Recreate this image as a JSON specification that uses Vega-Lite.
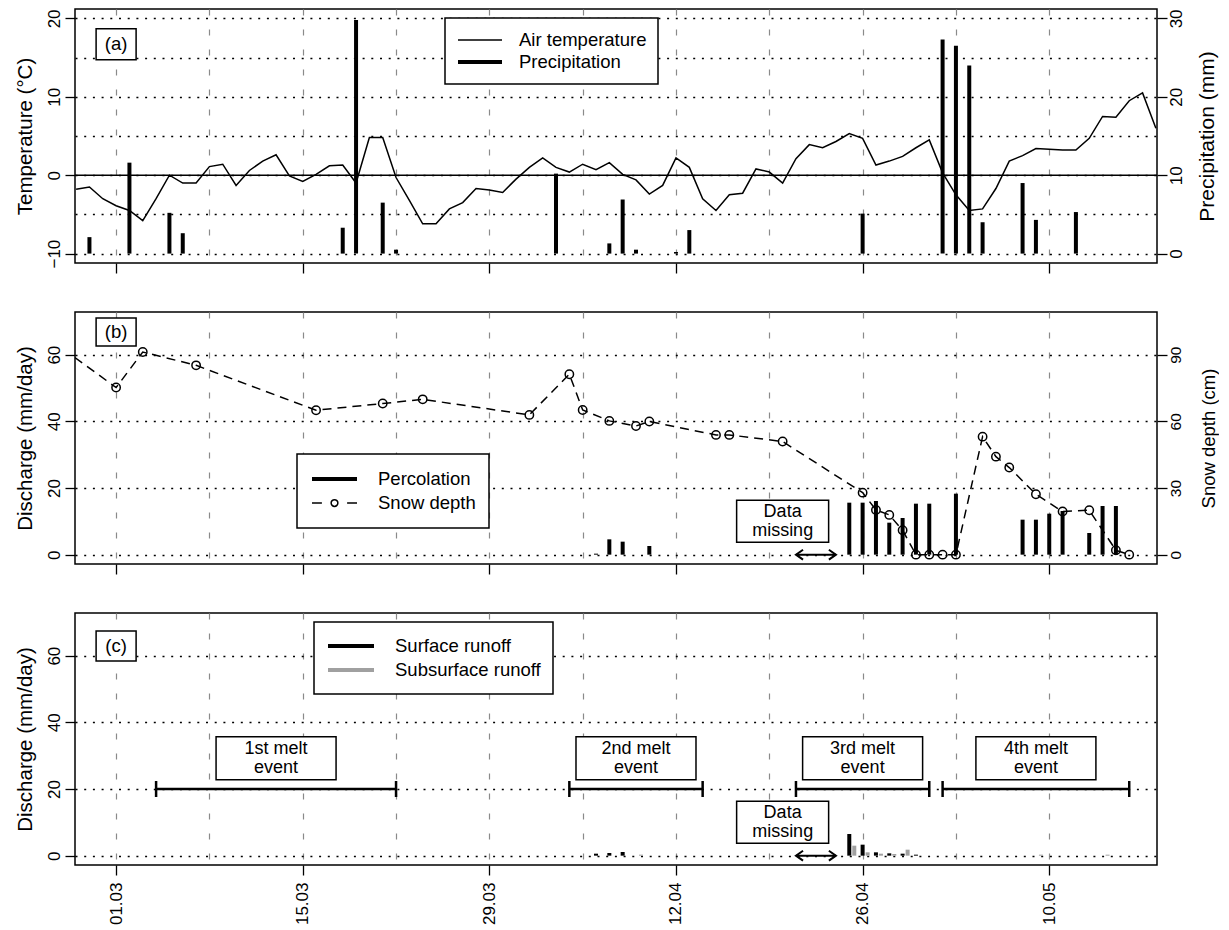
{
  "$schema": "https://vega.github.io/schema/vega-lite/v6.json",
  "padding": {"left": 14, "top": 8, "right": 0, "bottom": 0},
  "background": "white",
  "spacing": 49,
  "bounds": "flush",
  "config": {
    "view": {"stroke": "black", "strokeWidth": 1.5},
    "axis": {"labelFont": "Liberation Sans", "titleFont": "Liberation Sans", "labelColor": "black", "titleColor": "black", "titleFontWeight": "normal", "tickColor": "black", "tickWidth": 1.3, "domain": false, "labelFlush": false, "labelOverlap": false, "tickSize": 10},
    "legend": {"labelFont": "Liberation Sans", "labelColor": "black"}
  },
  "datasets": {
    "temperature": [
      {"date": "2006-02-26", "temp": -1.8}, {"date": "2006-02-27", "temp": -1.5}, {"date": "2006-02-28", "temp": -3.0},
      {"date": "2006-03-01", "temp": -3.9}, {"date": "2006-03-02", "temp": -4.5}, {"date": "2006-03-03", "temp": -5.8},
      {"date": "2006-03-04", "temp": -3.0}, {"date": "2006-03-05", "temp": 0.0}, {"date": "2006-03-06", "temp": -1.0},
      {"date": "2006-03-07", "temp": -1.0}, {"date": "2006-03-08", "temp": 1.1}, {"date": "2006-03-09", "temp": 1.4},
      {"date": "2006-03-10", "temp": -1.3}, {"date": "2006-03-11", "temp": 0.6}, {"date": "2006-03-12", "temp": 1.8},
      {"date": "2006-03-13", "temp": 2.6}, {"date": "2006-03-14", "temp": -0.1}, {"date": "2006-03-15", "temp": -0.8},
      {"date": "2006-03-16", "temp": 0.1}, {"date": "2006-03-17", "temp": 1.2}, {"date": "2006-03-18", "temp": 1.3},
      {"date": "2006-03-19", "temp": -1.0}, {"date": "2006-03-20", "temp": 4.8}, {"date": "2006-03-21", "temp": 4.8},
      {"date": "2006-03-22", "temp": -0.3}, {"date": "2006-03-23", "temp": -3.2}, {"date": "2006-03-24", "temp": -6.2},
      {"date": "2006-03-25", "temp": -6.2}, {"date": "2006-03-26", "temp": -4.3}, {"date": "2006-03-27", "temp": -3.5},
      {"date": "2006-03-28", "temp": -1.7}, {"date": "2006-03-29", "temp": -1.9}, {"date": "2006-03-30", "temp": -2.2},
      {"date": "2006-03-31", "temp": -0.5}, {"date": "2006-04-01", "temp": 1.0}, {"date": "2006-04-02", "temp": 2.2},
      {"date": "2006-04-03", "temp": 1.0}, {"date": "2006-04-04", "temp": 0.4}, {"date": "2006-04-05", "temp": 1.4},
      {"date": "2006-04-06", "temp": 0.7}, {"date": "2006-04-07", "temp": 1.6}, {"date": "2006-04-08", "temp": 0.1},
      {"date": "2006-04-09", "temp": -0.6}, {"date": "2006-04-10", "temp": -2.4}, {"date": "2006-04-11", "temp": -1.3},
      {"date": "2006-04-12", "temp": 2.2}, {"date": "2006-04-13", "temp": 1.0}, {"date": "2006-04-14", "temp": -3.0},
      {"date": "2006-04-15", "temp": -4.5}, {"date": "2006-04-16", "temp": -2.5}, {"date": "2006-04-17", "temp": -2.3},
      {"date": "2006-04-18", "temp": 0.8}, {"date": "2006-04-19", "temp": 0.4}, {"date": "2006-04-20", "temp": -1.0},
      {"date": "2006-04-21", "temp": 2.1}, {"date": "2006-04-22", "temp": 3.9}, {"date": "2006-04-23", "temp": 3.5},
      {"date": "2006-04-24", "temp": 4.3}, {"date": "2006-04-25", "temp": 5.3}, {"date": "2006-04-26", "temp": 4.7},
      {"date": "2006-04-27", "temp": 1.3}, {"date": "2006-04-28", "temp": 1.8}, {"date": "2006-04-29", "temp": 2.4},
      {"date": "2006-04-30", "temp": 3.5}, {"date": "2006-05-01", "temp": 4.5}, {"date": "2006-05-02", "temp": 0.3},
      {"date": "2006-05-03", "temp": -2.5}, {"date": "2006-05-04", "temp": -4.5}, {"date": "2006-05-05", "temp": -4.3},
      {"date": "2006-05-06", "temp": -1.7}, {"date": "2006-05-07", "temp": 1.8}, {"date": "2006-05-08", "temp": 2.5},
      {"date": "2006-05-09", "temp": 3.4}, {"date": "2006-05-10", "temp": 3.3}, {"date": "2006-05-11", "temp": 3.2},
      {"date": "2006-05-12", "temp": 3.2}, {"date": "2006-05-13", "temp": 4.7}, {"date": "2006-05-14", "temp": 7.5},
      {"date": "2006-05-15", "temp": 7.4}, {"date": "2006-05-16", "temp": 9.5}, {"date": "2006-05-17", "temp": 10.5},
      {"date": "2006-05-18", "temp": 6.0}
    ],
    "precipitation": [
      {"date": "2006-02-27", "precip": 2.1}, {"date": "2006-03-02", "precip": 11.6}, {"date": "2006-03-05", "precip": 5.2},
      {"date": "2006-03-06", "precip": 2.6}, {"date": "2006-03-18", "precip": 3.3}, {"date": "2006-03-19", "precip": 29.8},
      {"date": "2006-03-21", "precip": 6.5}, {"date": "2006-03-22", "precip": 0.5}, {"date": "2006-04-03", "precip": 10.2},
      {"date": "2006-04-07", "precip": 1.3}, {"date": "2006-04-08", "precip": 6.9}, {"date": "2006-04-09", "precip": 0.5},
      {"date": "2006-04-12", "precip": 0.2}, {"date": "2006-04-13", "precip": 3.0}, {"date": "2006-04-26", "precip": 5.1},
      {"date": "2006-05-02", "precip": 27.3}, {"date": "2006-05-03", "precip": 26.5}, {"date": "2006-05-04", "precip": 24.0},
      {"date": "2006-05-05", "precip": 4.0}, {"date": "2006-05-08", "precip": 9.0}, {"date": "2006-05-09", "precip": 4.3},
      {"date": "2006-05-12", "precip": 5.3}
    ],
    "snow": [
      {"date": "2006-02-25", "snow": 92.7}, {"date": "2006-03-01", "snow": 75.2}, {"date": "2006-03-03", "snow": 91.2},
      {"date": "2006-03-07", "snow": 85.2}, {"date": "2006-03-16", "snow": 65.0}, {"date": "2006-03-21", "snow": 68.0},
      {"date": "2006-03-24", "snow": 69.9}, {"date": "2006-04-01", "snow": 62.9}, {"date": "2006-04-04", "snow": 81.2},
      {"date": "2006-04-05", "snow": 65.1}, {"date": "2006-04-07", "snow": 60.2}, {"date": "2006-04-09", "snow": 57.9},
      {"date": "2006-04-10", "snow": 59.9}, {"date": "2006-04-15", "snow": 53.9}, {"date": "2006-04-16", "snow": 53.9},
      {"date": "2006-04-20", "snow": 50.9}, {"date": "2006-04-26", "snow": 27.9}, {"date": "2006-04-27", "snow": 20.1},
      {"date": "2006-04-28", "snow": 17.9}, {"date": "2006-04-29", "snow": 11.0}, {"date": "2006-04-30", "snow": 0},
      {"date": "2006-05-01", "snow": 0}, {"date": "2006-05-02", "snow": 0}, {"date": "2006-05-03", "snow": 0},
      {"date": "2006-05-05", "snow": 53.1}, {"date": "2006-05-06", "snow": 44.1}, {"date": "2006-05-07", "snow": 39.2},
      {"date": "2006-05-09", "snow": 27.2}, {"date": "2006-05-11", "snow": 19.4}, {"date": "2006-05-13", "snow": 20.0},
      {"date": "2006-05-15", "snow": 2.0}, {"date": "2006-05-16", "snow": 0}
    ],
    "percolation": [
      {"date": "2006-04-06", "perc": 0.3}, {"date": "2006-04-07", "perc": 4.6}, {"date": "2006-04-08", "perc": 3.9},
      {"date": "2006-04-10", "perc": 2.6}, {"date": "2006-04-25", "perc": 15.6}, {"date": "2006-04-26", "perc": 15.6},
      {"date": "2006-04-27", "perc": 16.1}, {"date": "2006-04-28", "perc": 9.6}, {"date": "2006-04-29", "perc": 11.0},
      {"date": "2006-04-30", "perc": 15.3}, {"date": "2006-05-01", "perc": 15.3}, {"date": "2006-05-03", "perc": 18.3},
      {"date": "2006-05-08", "perc": 10.5}, {"date": "2006-05-09", "perc": 10.5}, {"date": "2006-05-10", "perc": 12.3},
      {"date": "2006-05-11", "perc": 13.1}, {"date": "2006-05-13", "perc": 6.5}, {"date": "2006-05-14", "perc": 14.6},
      {"date": "2006-05-15", "perc": 14.6}
    ],
    "surface": [
      {"date": "2006-04-06", "runoff": 0.6}, {"date": "2006-04-07", "runoff": 0.8}, {"date": "2006-04-08", "runoff": 1.1},
      {"date": "2006-04-25", "runoff": 6.5}, {"date": "2006-04-26", "runoff": 3.3}, {"date": "2006-04-27", "runoff": 1.0},
      {"date": "2006-04-28", "runoff": 0.7}, {"date": "2006-04-29", "runoff": 0.6}, {"date": "2006-04-30", "runoff": 0.3}
    ],
    "subsurface": [
      {"date": "2006-04-09", "runoff": 0.3}, {"date": "2006-04-25", "runoff": 3.0}, {"date": "2006-04-26", "runoff": 1.0},
      {"date": "2006-04-27", "runoff": 0.6}, {"date": "2006-04-28", "runoff": 0.5}, {"date": "2006-04-29", "runoff": 1.8},
      {"date": "2006-05-09", "runoff": 0.3}, {"date": "2006-05-14", "runoff": 0.3}
    ],
    "melt": [
      {"event": "1st melt\nevent", "start": "2006-03-04", "end": "2006-03-22", "labeldate": "2006-03-13"},
      {"event": "2nd melt\nevent", "start": "2006-04-04", "end": "2006-04-14", "labeldate": "2006-04-09"},
      {"event": "3rd melt\nevent", "start": "2006-04-21", "end": "2006-05-01", "labeldate": "2006-04-26"},
      {"event": "4th melt\nevent", "start": "2006-05-02", "end": "2006-05-16", "labeldate": "2006-05-09"}
    ],
    "missing": [
      {"label": "Data\nmissing", "start": "2006-04-21", "end": "2006-04-24", "labeldate": "2006-04-20"}
    ]
  },
  "resolve": {
    "scale": {"strokeWidth": "independent", "color": "independent"},
    "legend": {"strokeWidth": "independent", "color": "independent"}
  },
  "vconcat": [
    {
      "width": 1082,
      "height": 254,
      "resolve": {"scale": {"y": "independent"}},
      "layer": [
        {
          "layer": [
            {
              "data": {"name": "temperature"},
              "mark": {"type": "line", "color": "black", "clip": true},
              "encoding": {
                "x": {"field": "date", "type": "temporal", "title": null,
                  "scale": {"type": "utc", "domain": [{"year": 2006, "month": 2, "date": 25, "hours": 22, "utc": true}, {"year": 2006, "month": 5, "date": 18, "hours": 2, "utc": true}]},
                  "axis": {
                    "values": [{"year": 2006, "month": 3, "date": 1, "utc": true}, {"year": 2006, "month": 3, "date": 8, "utc": true}, {"year": 2006, "month": 3, "date": 15, "utc": true}, {"year": 2006, "month": 3, "date": 22, "utc": true}, {"year": 2006, "month": 3, "date": 29, "utc": true}, {"year": 2006, "month": 4, "date": 5, "utc": true}, {"year": 2006, "month": 4, "date": 12, "utc": true}, {"year": 2006, "month": 4, "date": 19, "utc": true}, {"year": 2006, "month": 4, "date": 26, "utc": true}, {"year": 2006, "month": 5, "date": 3, "utc": true}, {"year": 2006, "month": 5, "date": 10, "utc": true}],
                    "grid": true, "gridDash": [6, 14], "gridColor": "#8a8a8a", "gridWidth": 1.2,
                    "labels": false,
                    "tickOpacity": {"condition": {"test": "round((datum.value - utc(2006,2,1))/864e5) % 14 === 0", "value": 1}, "value": 0}
                  }
                },
                "y": {"field": "temp", "type": "quantitative",
                  "scale": {"domain": [-11.2, 21.2], "nice": false, "zero": false},
                  "axis": {
                    "values": [-10, -5, 0, 5, 10, 15, 20],
                    "grid": true, "gridDash": [2, 6.7], "gridColor": "black", "gridWidth": 1.3,
                    "labelExpr": "datum.value % 10 === 0 ? datum.label : ''",
                    "tickOpacity": {"condition": {"test": "datum.value % 10 === 0", "value": 1}, "value": 0},
                    "labelAngle": 270, "labelAlign": "center", "labelBaseline": "bottom", "labelFontSize": 17, "labelPadding": 2,
                    "title": "Temperature (°C)", "titleFontSize": 20.5, "titlePadding": 10
                  }
                },
                "strokeWidth": {"datum": "Air temperature", "type": "ordinal",
                  "scale": {"domain": ["Air temperature", "Precipitation"], "range": [1.5, 4]},
                  "legend": {
                    "orient": "none", "legendX": 370, "legendY": 9, "title": null,
                    "symbolType": "stroke", "symbolSize": 1936, "symbolStrokeColor": "black",
                    "labelFontSize": 18.5, "labelLimit": 400, "labelOffset": 15,
                    "padding": 11, "rowPadding": 0, "clipHeight": 22,
                    "strokeColor": "black", "fillColor": "white",
                    "encode": {"legend": {"update": {"strokeWidth": {"value": 1.5}}}}
                  }
                }
              }
            },
            {
              "data": {"values": [{}]},
              "mark": {"type": "rule", "color": "black", "strokeWidth": 1.5},
              "encoding": {"y": {"datum": 0, "type": "quantitative"}}
            },
            {
              "data": {"values": [{"label": "(a)"}]},
              "mark": {"type": "rect", "fill": "white", "stroke": "black", "strokeWidth": 1.5, "width": 40, "height": 31, "align": "center", "baseline": "middle"},
              "encoding": {
                "x": {"datum": {"year": 2006, "month": 3, "date": 1, "utc": true}, "type": "temporal", "scale": {"type": "utc"}},
                "y": {"datum": 16.7, "type": "quantitative"}
              }
            },
            {
              "data": {"values": [{"label": "(a)"}]},
              "mark": {"type": "text", "font": "Liberation Sans", "fontSize": 18.5, "color": "black", "align": "center", "baseline": "middle"},
              "encoding": {
                "x": {"datum": {"year": 2006, "month": 3, "date": 1, "utc": true}, "type": "temporal", "scale": {"type": "utc"}},
                "y": {"datum": 16.7, "type": "quantitative"},
                "text": {"field": "label"}
              }
            }
          ]
        },
        {
          "data": {"name": "precipitation"},
          "mark": {"type": "rule", "color": "black"},
          "encoding": {
            "x": {"field": "date", "type": "temporal", "title": null, "scale": {"type": "utc"}},
            "y": {"field": "precip", "type": "quantitative",
              "scale": {"domain": [-1.2, 31.2], "nice": false, "zero": false},
              "axis": {
                "orient": "right", "values": [0, 10, 20, 30], "grid": false,
                "labelAngle": 270, "labelAlign": "center", "labelBaseline": "top", "labelFontSize": 17, "labelPadding": 1,
                "title": "Precipitation (mm)", "titleFontSize": 21, "titleAngle": 270, "titleBaseline": "top", "titlePadding": 12
              }
            },
            "y2": {"datum": 0},
            "strokeWidth": {"datum": "Precipitation", "type": "ordinal"}
          }
        }
      ]
    },
    {
      "width": 1082,
      "height": 252,
      "resolve": {"scale": {"y": "independent"}},
      "layer": [
        {
          "layer": [
            {
              "data": {"name": "percolation"},
              "mark": {"type": "rule", "color": "black"},
              "encoding": {
                "x": {"field": "date", "type": "temporal", "title": null,
                  "scale": {"type": "utc", "domain": [{"year": 2006, "month": 2, "date": 25, "hours": 22, "utc": true}, {"year": 2006, "month": 5, "date": 18, "hours": 2, "utc": true}]},
                  "axis": {
                    "values": [{"year": 2006, "month": 3, "date": 1, "utc": true}, {"year": 2006, "month": 3, "date": 8, "utc": true}, {"year": 2006, "month": 3, "date": 15, "utc": true}, {"year": 2006, "month": 3, "date": 22, "utc": true}, {"year": 2006, "month": 3, "date": 29, "utc": true}, {"year": 2006, "month": 4, "date": 5, "utc": true}, {"year": 2006, "month": 4, "date": 12, "utc": true}, {"year": 2006, "month": 4, "date": 19, "utc": true}, {"year": 2006, "month": 4, "date": 26, "utc": true}, {"year": 2006, "month": 5, "date": 3, "utc": true}, {"year": 2006, "month": 5, "date": 10, "utc": true}],
                    "grid": true, "gridDash": [6, 14], "gridColor": "#8a8a8a", "gridWidth": 1.2,
                    "labels": false,
                    "tickOpacity": {"condition": {"test": "round((datum.value - utc(2006,2,1))/864e5) % 14 === 0", "value": 1}, "value": 0}
                  }
                },
                "y": {"field": "perc", "type": "quantitative",
                  "scale": {"domain": [-2.8, 72.8], "nice": false, "zero": false},
                  "axis": {
                    "values": [0, 10, 20, 30, 40, 50, 60, 70],
                    "grid": true, "gridDash": [2, 6.7], "gridColor": "black", "gridWidth": 1.3,
                    "labelExpr": "datum.value % 20 === 0 ? datum.label : ''",
                    "tickOpacity": {"condition": {"test": "datum.value % 20 === 0", "value": 1}, "value": 0},
                    "labelAngle": 270, "labelAlign": "center", "labelBaseline": "bottom", "labelFontSize": 17, "labelPadding": 2,
                    "title": "Discharge (mm/day)", "titleFontSize": 20.5, "titlePadding": 10
                  }
                },
                "y2": {"datum": 0},
                "strokeWidth": {"datum": "Percolation", "type": "ordinal",
                  "scale": {"domain": ["Percolation", "Snow depth"], "range": [4, 1.5]},
                  "legend": {
                    "orient": "none", "legendX": 222, "legendY": 142, "title": null,
                    "symbolType": "stroke", "symbolSize": 2025, "symbolStrokeColor": "black",
                    "labelFontSize": 18.5, "labelLimit": 400, "labelOffset": 19,
                    "padding": 13, "rowPadding": 0, "clipHeight": 24,
                    "strokeColor": "black", "fillColor": "white",
                    "encode": {
                      "legend": {"update": {"strokeWidth": {"value": 1.5}}},
                      "symbols": {"update": {"shape": {"signal": "datum.value === 'Snow depth' ? 'M-1,0H-0.56M0.56,0H1M-0.15,0A0.15,0.15 0 1 1 0.15,0A0.15,0.15 0 1 1 -0.15,0' : 'stroke'"}}}
                    }
                  }
                }
              }
            },
            {
              "data": {"values": [{"label": "(b)"}]},
              "mark": {"type": "rect", "fill": "white", "stroke": "black", "strokeWidth": 1.5, "width": 40, "height": 28, "align": "center", "baseline": "middle"},
              "encoding": {
                "x": {"datum": {"year": 2006, "month": 3, "date": 1, "utc": true}, "type": "temporal", "scale": {"type": "utc"}},
                "y": {"datum": 66.8, "type": "quantitative"}
              }
            },
            {
              "data": {"values": [{"label": "(b)"}]},
              "mark": {"type": "text", "font": "Liberation Sans", "fontSize": 18.5, "color": "black", "align": "center", "baseline": "middle"},
              "encoding": {
                "x": {"datum": {"year": 2006, "month": 3, "date": 1, "utc": true}, "type": "temporal", "scale": {"type": "utc"}},
                "y": {"datum": 66.8, "type": "quantitative"},
                "text": {"field": "label"}
              }
            },
            {
              "data": {"name": "missing"},
              "mark": {"type": "rect", "fill": "white", "stroke": "black", "strokeWidth": 1.5, "width": 92, "height": 42, "align": "center", "baseline": "middle"},
              "encoding": {
                "x": {"field": "labeldate", "type": "temporal", "scale": {"type": "utc"}},
                "y": {"datum": 10, "type": "quantitative"}
              }
            },
            {
              "data": {"name": "missing"},
              "mark": {"type": "text", "font": "Liberation Sans", "fontSize": 18, "color": "black", "align": "center", "baseline": "middle", "lineBreak": "\n", "lineHeight": 19, "dy": -9.5},
              "encoding": {
                "x": {"field": "labeldate", "type": "temporal", "scale": {"type": "utc"}},
                "y": {"datum": 10, "type": "quantitative"},
                "text": {"field": "label"}
              }
            },
            {
              "data": {"name": "missing"},
              "mark": {"type": "rule", "color": "black", "strokeWidth": 2},
              "encoding": {
                "x": {"field": "start", "type": "temporal", "scale": {"type": "utc"}},
                "x2": {"field": "end"},
                "y": {"datum": 0, "type": "quantitative"}
              }
            },
            {
              "data": {"name": "missing"},
              "mark": {"type": "point", "shape": "M1,-0.7L0,0L1,0.7", "filled": false, "size": 200, "strokeWidth": 2, "color": "black", "opacity": 1},
              "encoding": {
                "x": {"field": "start", "type": "temporal", "scale": {"type": "utc"}},
                "y": {"datum": 0, "type": "quantitative"}
              }
            },
            {
              "data": {"name": "missing"},
              "mark": {"type": "point", "shape": "M-1,-0.7L0,0L-1,0.7", "filled": false, "size": 200, "strokeWidth": 2, "color": "black", "opacity": 1},
              "encoding": {
                "x": {"field": "end", "type": "temporal", "scale": {"type": "utc"}},
                "y": {"datum": 0, "type": "quantitative"}
              }
            }
          ]
        },
        {
          "layer": [
            {
              "data": {"name": "snow"},
              "mark": {"type": "line", "color": "black", "strokeDash": [9, 6], "clip": true},
              "encoding": {
                "x": {"field": "date", "type": "temporal", "title": null, "scale": {"type": "utc"}},
                "y": {"field": "snow", "type": "quantitative",
                  "scale": {"domain": [-4.2, 109.2], "nice": false, "zero": false},
                  "axis": {
                    "orient": "right", "values": [0, 30, 60, 90], "grid": false,
                    "labelAngle": 270, "labelAlign": "center", "labelBaseline": "top", "labelFontSize": 15.5, "labelPadding": 1,
                    "title": "Snow depth (cm)", "titleFontSize": 18.5, "titleAngle": 270, "titleBaseline": "top", "titlePadding": 16
                  }
                },
                "strokeWidth": {"datum": "Snow depth", "type": "ordinal"}
              }
            },
            {
              "data": {"name": "snow"},
              "mark": {"type": "point", "shape": "circle", "filled": false, "size": 70, "strokeWidth": 1.5, "color": "black", "opacity": 1, "clip": true},
              "encoding": {
                "x": {"field": "date", "type": "temporal", "title": null, "scale": {"type": "utc"}},
                "y": {"field": "snow", "type": "quantitative"}
              }
            }
          ]
        }
      ]
    },
    {
      "width": 1082,
      "height": 252,
      "layer": [
        {
          "data": {"name": "surface"},
          "mark": {"type": "rule", "strokeWidth": 4},
          "encoding": {
            "x": {"field": "date", "type": "temporal", "title": null,
              "scale": {"type": "utc", "domain": [{"year": 2006, "month": 2, "date": 25, "hours": 22, "utc": true}, {"year": 2006, "month": 5, "date": 18, "hours": 2, "utc": true}]},
              "axis": {
                "values": [{"year": 2006, "month": 3, "date": 1, "utc": true}, {"year": 2006, "month": 3, "date": 8, "utc": true}, {"year": 2006, "month": 3, "date": 15, "utc": true}, {"year": 2006, "month": 3, "date": 22, "utc": true}, {"year": 2006, "month": 3, "date": 29, "utc": true}, {"year": 2006, "month": 4, "date": 5, "utc": true}, {"year": 2006, "month": 4, "date": 12, "utc": true}, {"year": 2006, "month": 4, "date": 19, "utc": true}, {"year": 2006, "month": 4, "date": 26, "utc": true}, {"year": 2006, "month": 5, "date": 3, "utc": true}, {"year": 2006, "month": 5, "date": 10, "utc": true}],
                "grid": true, "gridDash": [6, 14], "gridColor": "#8a8a8a", "gridWidth": 1.2,
                "labelExpr": "(round((datum.value - utc(2006,2,1))/864e5) % 14 === 0) ? utcFormat(datum.value, '%d.%m') : ''",
                "labelAngle": 270, "labelFontSize": 17, "labelPadding": 7,
                "tickOpacity": {"condition": {"test": "round((datum.value - utc(2006,2,1))/864e5) % 14 === 0", "value": 1}, "value": 0}
              }
            },
            "y": {"field": "runoff", "type": "quantitative",
              "scale": {"domain": [-2.8, 72.8], "nice": false, "zero": false},
              "axis": {
                "values": [0, 10, 20, 30, 40, 50, 60, 70],
                "grid": true, "gridDash": [2, 6.7], "gridColor": "black", "gridWidth": 1.3,
                "labelExpr": "datum.value % 20 === 0 ? datum.label : ''",
                "tickOpacity": {"condition": {"test": "datum.value % 20 === 0", "value": 1}, "value": 0},
                "labelAngle": 270, "labelAlign": "center", "labelBaseline": "bottom", "labelFontSize": 17, "labelPadding": 2,
                "title": "Discharge (mm/day)", "titleFontSize": 20.5, "titlePadding": 10
              }
            },
            "y2": {"datum": 0},
            "color": {"datum": "Surface runoff", "type": "nominal",
              "scale": {"domain": ["Surface runoff", "Subsurface runoff"], "range": ["black", "#a0a0a0"]},
              "legend": {
                "orient": "none", "legendX": 239, "legendY": 9, "title": null,
                "symbolType": "stroke", "symbolSize": 2116, "symbolStrokeWidth": 4,
                "labelFontSize": 18.5, "labelLimit": 400, "labelOffset": 19,
                "padding": 12, "rowPadding": 0, "clipHeight": 24,
                "strokeColor": "black", "fillColor": "white",
                "encode": {"legend": {"update": {"strokeWidth": {"value": 1.5}}}}
              }
            }
          }
        },
        {
          "data": {"name": "subsurface"},
          "mark": {"type": "rule", "strokeWidth": 4, "xOffset": 5},
          "encoding": {
            "x": {"field": "date", "type": "temporal", "title": null, "scale": {"type": "utc"}},
            "y": {"field": "runoff", "type": "quantitative"},
            "y2": {"datum": 0},
            "color": {"datum": "Subsurface runoff", "type": "nominal"}
          }
        },
        {
          "data": {"values": [{"label": "(c)"}]},
          "mark": {"type": "rect", "fill": "white", "stroke": "black", "strokeWidth": 1.5, "width": 40, "height": 30, "align": "center", "baseline": "middle"},
          "encoding": {
            "x": {"datum": {"year": 2006, "month": 3, "date": 1, "utc": true}, "type": "temporal", "scale": {"type": "utc"}},
            "y": {"datum": 62.9, "type": "quantitative"}
          }
        },
        {
          "data": {"values": [{"label": "(c)"}]},
          "mark": {"type": "text", "font": "Liberation Sans", "fontSize": 18.5, "color": "black", "align": "center", "baseline": "middle"},
          "encoding": {
            "x": {"datum": {"year": 2006, "month": 3, "date": 1, "utc": true}, "type": "temporal", "scale": {"type": "utc"}},
            "y": {"datum": 62.9, "type": "quantitative"},
            "text": {"field": "label"}
          }
        },
        {
          "data": {"name": "melt"},
          "mark": {"type": "rule", "color": "black", "strokeWidth": 2.5},
          "encoding": {
            "x": {"field": "start", "type": "temporal", "scale": {"type": "utc"}},
            "x2": {"field": "end"},
            "y": {"datum": 20, "type": "quantitative"}
          }
        },
        {
          "data": {"name": "melt"},
          "mark": {"type": "tick", "orient": "vertical", "size": 16, "thickness": 2.5, "color": "black", "opacity": 1},
          "encoding": {
            "x": {"field": "start", "type": "temporal", "scale": {"type": "utc"}},
            "y": {"datum": 20, "type": "quantitative"}
          }
        },
        {
          "data": {"name": "melt"},
          "mark": {"type": "tick", "orient": "vertical", "size": 16, "thickness": 2.5, "color": "black", "opacity": 1},
          "encoding": {
            "x": {"field": "end", "type": "temporal", "scale": {"type": "utc"}},
            "y": {"datum": 20, "type": "quantitative"}
          }
        },
        {
          "data": {"name": "melt"},
          "mark": {"type": "rect", "fill": "white", "stroke": "black", "strokeWidth": 1.5, "width": 120, "height": 43, "align": "center", "baseline": "middle"},
          "encoding": {
            "x": {"field": "labeldate", "type": "temporal", "scale": {"type": "utc"}},
            "y": {"datum": 29.2, "type": "quantitative"}
          }
        },
        {
          "data": {"name": "melt"},
          "mark": {"type": "text", "font": "Liberation Sans", "fontSize": 18, "color": "black", "align": "center", "baseline": "middle", "lineBreak": "\n", "lineHeight": 19, "dy": -9.5},
          "encoding": {
            "x": {"field": "labeldate", "type": "temporal", "scale": {"type": "utc"}},
            "y": {"datum": 29.2, "type": "quantitative"},
            "text": {"field": "event"}
          }
        },
        {
          "data": {"name": "missing"},
          "mark": {"type": "rect", "fill": "white", "stroke": "black", "strokeWidth": 1.5, "width": 92, "height": 42, "align": "center", "baseline": "middle"},
          "encoding": {
            "x": {"field": "labeldate", "type": "temporal", "scale": {"type": "utc"}},
            "y": {"datum": 10, "type": "quantitative"}
          }
        },
        {
          "data": {"name": "missing"},
          "mark": {"type": "text", "font": "Liberation Sans", "fontSize": 18, "color": "black", "align": "center", "baseline": "middle", "lineBreak": "\n", "lineHeight": 19, "dy": -9.5},
          "encoding": {
            "x": {"field": "labeldate", "type": "temporal", "scale": {"type": "utc"}},
            "y": {"datum": 10, "type": "quantitative"},
            "text": {"field": "label"}
          }
        },
        {
          "data": {"name": "missing"},
          "mark": {"type": "rule", "color": "black", "strokeWidth": 2},
          "encoding": {
            "x": {"field": "start", "type": "temporal", "scale": {"type": "utc"}},
            "x2": {"field": "end"},
            "y": {"datum": 0, "type": "quantitative"}
          }
        },
        {
          "data": {"name": "missing"},
          "mark": {"type": "point", "shape": "M1,-0.7L0,0L1,0.7", "filled": false, "size": 200, "strokeWidth": 2, "color": "black", "opacity": 1},
          "encoding": {
            "x": {"field": "start", "type": "temporal", "scale": {"type": "utc"}},
            "y": {"datum": 0, "type": "quantitative"}
          }
        },
        {
          "data": {"name": "missing"},
          "mark": {"type": "point", "shape": "M-1,-0.7L0,0L-1,0.7", "filled": false, "size": 200, "strokeWidth": 2, "color": "black", "opacity": 1},
          "encoding": {
            "x": {"field": "end", "type": "temporal", "scale": {"type": "utc"}},
            "y": {"datum": 0, "type": "quantitative"}
          }
        }
      ]
    }
  ]
}
